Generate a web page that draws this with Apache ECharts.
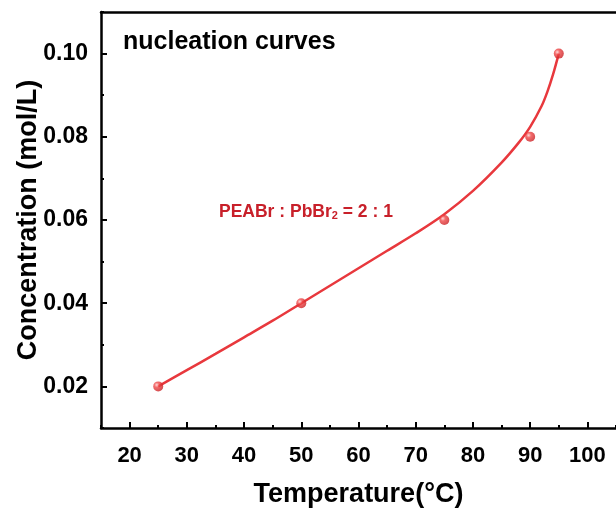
<!DOCTYPE html>
<html><head><meta charset="utf-8">
<script src="https://cdn.jsdelivr.net/npm/echarts@6/dist/echarts.min.js"></script>
<style>html,body{margin:0;padding:0;background:#fff}#c{width:616px;height:510px}</style>
</head><body><div id="c"></div>
<script>
// measured points
const tempPoints = [25, 50, 75, 90, 95];
const concPoints = [0.020, 0.040, 0.060, 0.080, 0.100];
// fitted curve
const curveTemp = [25, 30, 35, 40, 45, 50, 55, 60, 65, 70, 75, 80, 85, 88, 90, 92, 93, 94, 95];
const curveConc = [0.0200, 0.0239, 0.0278, 0.0318, 0.0358, 0.0400, 0.0442, 0.0484, 0.0526, 0.0568, 0.0614, 0.0670, 0.0738, 0.0786, 0.0824, 0.0874, 0.0908, 0.0950, 0.1000];
const xTicks = [20, 30, 40, 50, 60, 70, 80, 90, 100];
const yTicks = [0.02, 0.04, 0.06, 0.08, 0.10];

const chart = echarts.init(document.getElementById('c'));
const font = '"Liberation Sans", Arial, sans-serif';
const axisLine = {show: true, lineStyle: {color: '#000', width: 2.5}};
const sphere = {
  type: 'radial', x: 0.35, y: 0.35, r: 0.7,
  colorStops: [{offset: 0, color: '#ffd0d0'}, {offset: 0.35, color: '#f04848'}, {offset: 1, color: '#c81e22'}]
};
chart.setOption({
  animation: false,
  grid: {left: 101, right: 0, top: 12, bottom: 82, containLabel: false, outerBoundsMode: 'none'},
  xAxis: [{
    type: 'value', min: 15, max: 105, interval: 5,
    name: 'Temperature(\u00B0C)', nameLocation: 'middle', nameGap: 53, nameMoveOverlap: false,
    nameTextStyle: {fontFamily: font, fontWeight: 'bold', fontSize: 27, color: '#000'},
    axisLine: axisLine,
    axisTick: {show: true, inside: true, length: 6, lineStyle: {color: '#000', width: 2},
      customValues: xTicks},
    axisLabel: {fontFamily: font, fontWeight: 'bold', fontSize: 22, color: '#000', margin: 17,
      customValues: xTicks, formatter: v => String(v)},
    splitLine: {show: false}
  }, {
    type: 'value', min: 15, max: 105, interval: 5, position: 'top',
    axisLine: axisLine, axisTick: {show: false}, axisLabel: {show: false}, splitLine: {show: false}
  }, {
    type: 'value', min: 15, max: 105, interval: 5, position: 'bottom',
    axisLine: {show: false},
    axisTick: {show: true, inside: true, length: 3, lineStyle: {color: '#000', width: 2}},
    axisLabel: {show: false}, splitLine: {show: false}
  }],
  yAxis: [{
    type: 'value', min: 0.01, max: 0.11, interval: 0.01,
    name: 'Concentration (mol/L)', nameLocation: 'middle', nameGap: 59, nameMoveOverlap: false,
    nameTextStyle: {fontFamily: font, fontWeight: 'bold', fontSize: 27, color: '#000'},
    axisLine: axisLine,
    axisTick: {show: true, inside: true, length: 6, lineStyle: {color: '#000', width: 2},
      customValues: yTicks},
    axisLabel: {fontFamily: font, fontWeight: 'bold', fontSize: 23, color: '#000', margin: 13,
      customValues: yTicks, formatter: v => v.toFixed(2)},
    splitLine: {show: false}
  }, {
    type: 'value', min: 0.01, max: 0.11, interval: 0.01, position: 'left',
    axisLine: {show: false},
    axisTick: {show: true, inside: true, length: 3, lineStyle: {color: '#000', width: 2}},
    axisLabel: {show: false}, splitLine: {show: false}
  }],
  series: [{
    type: 'line', smooth: 0.3, showSymbol: false, z: 2,
    data: curveTemp.map((t, i) => [t, curveConc[i]]),
    lineStyle: {color: '#e8383d', width: 2.5}
  }, {
    type: 'scatter', z: 3, symbol: 'circle', symbolSize: 10,
    data: tempPoints.map((t, i) => [t, concPoints[i]]),
    itemStyle: {color: sphere}
  }],
  graphic: [{
    type: 'text', left: 123, top: 30,
    style: {text: 'nucleation curves', fontFamily: font, fontWeight: 'bold', fontSize: 25, fill: '#000'}
  }, {
    type: 'text', left: 219, top: 203,
    style: {
      text: '{a|PEABr : PbBr}{s|2}{a| = 2 : 1}',
      rich: {
        a: {fontFamily: font, fontWeight: 'bold', fontSize: 17.5, fill: '#c8202a', color: '#c8202a'},
        s: {fontFamily: font, fontWeight: 'bold', fontSize: 11, fill: '#c8202a', color: '#c8202a', verticalAlign: 'bottom', padding: [7, 0, 0, 0]}
      }
    }
  }]
});
</script></body></html>
